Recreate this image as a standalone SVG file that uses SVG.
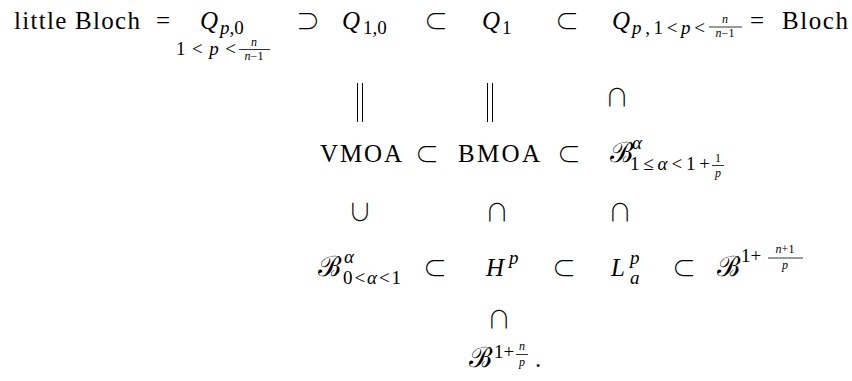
<svg xmlns="http://www.w3.org/2000/svg" width="852" height="381" viewBox="0 0 852 381">
<style>
text { fill:#000; }
.rm { font-family:"Liberation Serif", serif; font-size:25px; }
.it { font-family:"Liberation Serif", serif; font-size:25px; font-style:italic; }
.s { font-size:19px; }
.ss { font-size:12px; }
.mid { text-anchor:middle; }
.sym { font-family:"Noto Sans CJK JP", sans-serif; font-size:24px; font-weight:300; text-anchor:middle; }
.cal { font-family:"DejaVu Sans", serif; font-size:28px; font-weight:200; }
.bar { stroke:#000; stroke-width:1; fill:none; }
.fb { stroke:#000; stroke-width:0.8; }
</style>
<rect width="852" height="381" fill="#fff"/>

<g id="littleBloch">
<text class="rm" x="14" y="29" textLength="126">little Bloch</text>
</g>
<g id="Qp0">
<text class="it" x="200" y="29">Q</text>
<text class="it s" x="220" y="34">p<tspan font-style="normal">,0</tspan></text>
<text class="rm s" x="176" y="55" textLength="60">1&lt;<tspan font-style="italic">p</tspan>&lt;</text>
<text class="it ss mid" x="254" y="46">n</text>
<line class="fb" x1="239" y1="49.5" x2="270" y2="49.5"/>
<text class="it ss mid" x="254" y="60">n<tspan font-style="normal">−1</tspan></text>
</g>
<g id="Q10">
<text class="it" x="342" y="29">Q</text>
<text class="rm s" x="363" y="34">1,0</text>
</g>
<g id="Q1">
<text class="it" x="482" y="29">Q</text>
<text class="rm s" x="502" y="34">1</text>
</g>
<g id="Qp1">
<text class="it" x="612" y="29">Q</text>
<text class="it s" x="632" y="34" textLength="73">p<tspan font-style="normal">,1&lt;</tspan>p<tspan font-style="normal">&lt;</tspan></text>
<text class="it ss mid" x="725" y="23">n</text>
<line class="fb" x1="709" y1="27" x2="742" y2="27"/>
<text class="it ss mid" x="725" y="37">n<tspan font-style="normal">−1</tspan></text>
</g>
<g id="Bloch">
<text class="rm" x="782" y="29" textLength="66">Bloch</text>
</g>

<g id="VMOA">
<text class="rm" x="320" y="162" textLength="82">VMOA</text>
</g>
<g id="BMOA">
<text class="rm" x="458" y="162" textLength="82">BMOA</text>
</g>
<g id="Balpha1">
<text class="cal" x="610" y="162">ℬ</text>
<text class="it s" x="632" y="149">α</text>
<text class="rm s" x="630" y="170" textLength="80">1≤<tspan font-style="italic">α</tspan>&lt;1+</text>
<text class="rm ss mid" x="718" y="162">1</text>
<line class="fb" x1="712" y1="165.5" x2="724" y2="165.5"/>
<text class="it ss mid" x="718" y="177">p</text>
</g>

<g id="Balpha0">
<text class="cal" x="318" y="276">ℬ</text>
<text class="it s" x="344" y="263">α</text>
<text class="rm s" x="343" y="284" textLength="58">0&lt;<tspan font-style="italic">α</tspan>&lt;1</text>
</g>
<g id="Hp">
<text class="it" x="486" y="276">H</text>
<text class="it s" x="509" y="264">p</text>
</g>
<g id="Lpa">
<text class="it" x="611" y="276">L</text>
<text class="it s" x="630" y="264">p</text>
<text class="it s" x="630" y="284">a</text>
</g>
<g id="Bn1p">
<text class="cal" x="717" y="276">ℬ</text>
<text class="rm s" x="741" y="262">1+</text>
<text class="it ss mid" x="785" y="253">n<tspan font-style="normal">+1</tspan></text>
<line class="fb" x1="768" y1="258" x2="803" y2="258"/>
<text class="it ss mid" x="785" y="269">p</text>
</g>

<g id="Bnp">
<text class="cal" x="469" y="367">ℬ</text>
<text class="rm s" x="494" y="358">1+</text>
<text class="it ss mid" x="522" y="350">n</text>
<line class="fb" x1="516" y1="354.5" x2="528" y2="354.5"/>
<text class="it ss mid" x="522" y="366">p</text>
<text class="rm" x="535" y="367">.</text>
</g>

<g id="connectors">
<text class="rm mid" x="163" y="29">=</text>
<text class="sym" x="308" y="30">⊃</text>
<text class="sym" x="436" y="30">⊂</text>
<text class="sym" x="567" y="30">⊂</text>
<text class="rm mid" x="757" y="29">=</text>

<line class="bar" x1="357.5" y1="83" x2="357.5" y2="122"/>
<line class="bar" x1="362.5" y1="83" x2="362.5" y2="122"/>
<line class="bar" x1="487.5" y1="83" x2="487.5" y2="122"/>
<line class="bar" x1="492.5" y1="83" x2="492.5" y2="122"/>
<text class="sym" x="617" y="106">∩</text>

<text class="sym" x="427" y="163">⊂</text>
<text class="sym" x="569" y="163">⊂</text>

<text class="sym" x="360" y="221">∪</text>
<text class="sym" x="497" y="221">∩</text>
<text class="sym" x="620" y="221">∩</text>

<text class="sym" x="435" y="277">⊂</text>
<text class="sym" x="564" y="277">⊂</text>
<text class="sym" x="684" y="277">⊂</text>

<text class="sym" x="499" y="328">∩</text>
</g>
</svg>
